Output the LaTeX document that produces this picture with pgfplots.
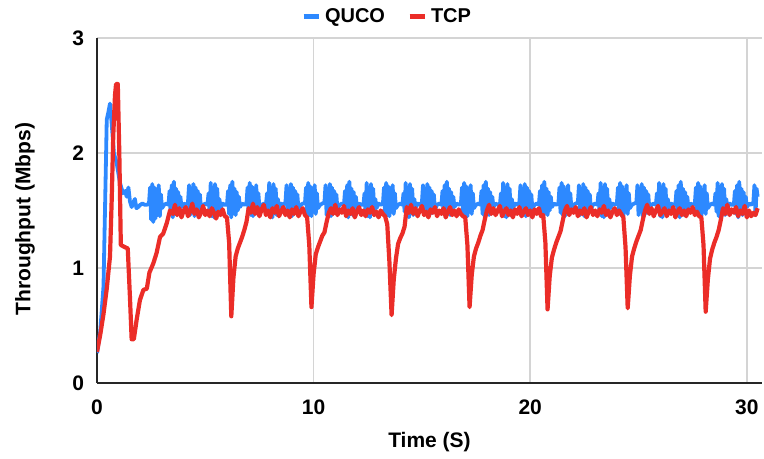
\documentclass[border=0pt]{standalone}
\usepackage{fontspec}
\setmainfont{Liberation Sans}
\usepackage{pgfplots}
\pgfplotsset{compat=1.18}
\definecolor{qblue}{RGB}{45,137,255}
\definecolor{tred}{RGB}{235,45,40}
\begin{document}
\begin{tikzpicture}
\begin{axis}[
 scale only axis, width=332.5pt, height=172.5pt,
 xmin=0, xmax=30.7, ymin=0, ymax=3,
 xtick={0,10,20,30}, ytick={0,1,2,3},
 axis x line=bottom, axis y line=left,
 axis line style={-, draw=black!85, line width=0.8pt},
 major tick length=0pt,
 grid=major, major grid style={draw=black!17, line width=0.75pt},
 /pgf/number format/assume math mode=true,
 tick label style={font=\bfseries\fontsize{10.5}{12}\selectfont},
 yticklabel style={anchor=east, xshift=-3pt},
 xticklabel style={anchor=north, yshift=-5pt},
 xlabel={Time (S)}, ylabel={Throughput (Mbps)},
 label style={font=\bfseries\fontsize{10.5}{12}\selectfont},
 xlabel style={at={(axis description cs:0.5,-0.171)}, anchor=center},
 ylabel style={at={(axis description cs:-0.1083,0.475)}, anchor=center},
 legend columns=2,
 legend style={at={(axis description cs:0.4376,1.0609)}, anchor=center, draw=none, fill=none,
   font=\bfseries\fontsize{10}{12}\selectfont,
   /tikz/every even column/.append style={column sep=9pt}},
 legend image code/.code={\draw[#1, line width=2.5pt, line cap=butt] (0pt,0pt) -- (7.5pt,0pt);},
]
\addplot[color=qblue, line width=1.9pt, line join=round] coordinates {
(0,0.26)(0.15,0.45)(0.3,0.84)(0.4,1.8)(0.45,2.29)(0.52,2.35)(0.6,2.43)(0.68,2.25)(0.78,2.0)(0.91,1.91)(1.06,1.74)(1.2,1.65)(1.3,1.67)(1.37,1.62)(1.45,1.70)(1.52,1.58)(1.6,1.53)(1.7,1.58)(1.75,1.60)(1.82,1.52)(1.9,1.53)(2.0,1.55)(2.1,1.56)(2.2,1.55)(2.3,1.55)
(2.40,1.56)(2.45,1.70)(2.50,1.42)(2.55,1.73)(2.60,1.40)(2.65,1.70)(2.70,1.43)(2.75,1.68)(2.80,1.46)(2.85,1.72)(2.90,1.45)(2.95,1.64)(3.00,1.52)(3.10,1.55)(3.20,1.56)
(3.30,1.55)(3.35,1.67)(3.40,1.47)(3.45,1.72)(3.50,1.44)(3.55,1.75)(3.60,1.48)(3.65,1.69)(3.70,1.46)(3.75,1.66)(3.80,1.50)(3.85,1.62)(3.90,1.53)(4.00,1.56)(4.10,1.55)
(4.20,1.57)(4.25,1.72)(4.30,1.46)(4.35,1.69)(4.40,1.49)(4.45,1.73)(4.50,1.45)(4.55,1.70)(4.60,1.47)(4.65,1.67)(4.70,1.48)(4.75,1.64)(4.80,1.51)(4.90,1.55)(5.00,1.56)
(5.10,1.55)(5.15,1.65)(5.20,1.49)(5.25,1.74)(5.30,1.45)(5.35,1.70)(5.40,1.44)(5.45,1.73)(5.50,1.48)(5.55,1.69)(5.60,1.46)(5.65,1.60)(5.70,1.52)(5.80,1.56)(5.90,1.55)
(6.00,1.55)(6.05,1.67)(6.10,1.47)(6.15,1.72)(6.20,1.44)(6.25,1.75)(6.30,1.48)(6.35,1.69)(6.40,1.46)(6.45,1.66)(6.50,1.50)(6.55,1.62)(6.60,1.53)(6.70,1.56)(6.80,1.55)
(6.90,1.56)(6.95,1.70)(7.00,1.48)(7.05,1.74)(7.10,1.46)(7.15,1.71)(7.20,1.45)(7.25,1.68)(7.30,1.49)(7.35,1.72)(7.40,1.47)(7.45,1.65)(7.50,1.52)(7.60,1.55)(7.70,1.56)
(7.80,1.55)(7.85,1.65)(7.90,1.49)(7.95,1.74)(8.00,1.45)(8.05,1.70)(8.10,1.44)(8.15,1.73)(8.20,1.48)(8.25,1.69)(8.30,1.46)(8.35,1.60)(8.40,1.52)(8.50,1.56)(8.60,1.55)
(8.70,1.57)(8.75,1.72)(8.80,1.46)(8.85,1.69)(8.90,1.49)(8.95,1.73)(9.00,1.45)(9.05,1.70)(9.10,1.47)(9.15,1.67)(9.20,1.48)(9.25,1.64)(9.30,1.51)(9.40,1.55)(9.50,1.56)
(9.60,1.56)(9.65,1.70)(9.70,1.48)(9.75,1.74)(9.80,1.46)(9.85,1.71)(9.90,1.45)(9.95,1.68)(10.00,1.49)(10.05,1.72)(10.10,1.47)(10.15,1.65)(10.20,1.52)(10.30,1.55)(10.40,1.56)
(10.50,1.57)(10.55,1.72)(10.60,1.46)(10.65,1.69)(10.70,1.49)(10.75,1.73)(10.80,1.45)(10.85,1.70)(10.90,1.47)(10.95,1.67)(11.00,1.48)(11.05,1.64)(11.10,1.51)(11.20,1.55)(11.30,1.56)
(11.40,1.55)(11.45,1.67)(11.50,1.47)(11.55,1.72)(11.60,1.44)(11.65,1.75)(11.70,1.48)(11.75,1.69)(11.80,1.46)(11.85,1.66)(11.90,1.50)(11.95,1.62)(12.00,1.53)(12.10,1.56)(12.20,1.55)
(12.30,1.55)(12.35,1.65)(12.40,1.49)(12.45,1.74)(12.50,1.45)(12.55,1.70)(12.60,1.44)(12.65,1.73)(12.70,1.48)(12.75,1.69)(12.80,1.46)(12.85,1.60)(12.90,1.52)(13.00,1.56)(13.10,1.55)
(13.20,1.56)(13.25,1.70)(13.30,1.48)(13.35,1.74)(13.40,1.46)(13.45,1.71)(13.50,1.45)(13.55,1.68)(13.60,1.49)(13.65,1.72)(13.70,1.47)(13.75,1.65)(13.80,1.52)(13.90,1.55)(14.00,1.56)
(14.10,1.55)(14.15,1.65)(14.20,1.49)(14.25,1.74)(14.30,1.45)(14.35,1.70)(14.40,1.44)(14.45,1.73)(14.50,1.48)(14.55,1.69)(14.60,1.46)(14.65,1.60)(14.70,1.52)(14.80,1.56)(14.90,1.55)
(15.00,1.57)(15.05,1.72)(15.10,1.46)(15.15,1.69)(15.20,1.49)(15.25,1.73)(15.30,1.45)(15.35,1.70)(15.40,1.47)(15.45,1.67)(15.50,1.48)(15.55,1.64)(15.60,1.51)(15.70,1.55)(15.80,1.56)
(15.90,1.55)(15.95,1.67)(16.00,1.47)(16.05,1.72)(16.10,1.44)(16.15,1.75)(16.20,1.48)(16.25,1.69)(16.30,1.46)(16.35,1.66)(16.40,1.50)(16.45,1.62)(16.50,1.53)(16.60,1.56)(16.70,1.55)
(16.80,1.56)(16.85,1.70)(16.90,1.48)(16.95,1.74)(17.00,1.46)(17.05,1.71)(17.10,1.45)(17.15,1.68)(17.20,1.49)(17.25,1.72)(17.30,1.47)(17.35,1.65)(17.40,1.52)(17.50,1.55)(17.60,1.56)
(17.70,1.55)(17.75,1.67)(17.80,1.47)(17.85,1.72)(17.90,1.44)(17.95,1.75)(18.00,1.48)(18.05,1.69)(18.10,1.46)(18.15,1.66)(18.20,1.50)(18.25,1.62)(18.30,1.53)(18.40,1.56)(18.50,1.55)
(18.60,1.55)(18.65,1.65)(18.70,1.49)(18.75,1.74)(18.80,1.45)(18.85,1.70)(18.90,1.44)(18.95,1.73)(19.00,1.48)(19.05,1.69)(19.10,1.46)(19.15,1.60)(19.20,1.52)(19.30,1.56)(19.40,1.55)
(19.50,1.57)(19.55,1.72)(19.60,1.46)(19.65,1.69)(19.70,1.49)(19.75,1.73)(19.80,1.45)(19.85,1.70)(19.90,1.47)(19.95,1.67)(20.00,1.48)(20.05,1.64)(20.10,1.51)(20.20,1.55)(20.30,1.56)
(20.40,1.55)(20.45,1.67)(20.50,1.47)(20.55,1.72)(20.60,1.44)(20.65,1.75)(20.70,1.48)(20.75,1.69)(20.80,1.46)(20.85,1.66)(20.90,1.50)(20.95,1.62)(21.00,1.53)(21.10,1.56)(21.20,1.55)
(21.30,1.56)(21.35,1.70)(21.40,1.48)(21.45,1.74)(21.50,1.46)(21.55,1.71)(21.60,1.45)(21.65,1.68)(21.70,1.49)(21.75,1.72)(21.80,1.47)(21.85,1.65)(21.90,1.52)(22.00,1.55)(22.10,1.56)
(22.20,1.57)(22.25,1.72)(22.30,1.46)(22.35,1.69)(22.40,1.49)(22.45,1.73)(22.50,1.45)(22.55,1.70)(22.60,1.47)(22.65,1.67)(22.70,1.48)(22.75,1.64)(22.80,1.51)(22.90,1.55)(23.00,1.56)
(23.10,1.55)(23.15,1.65)(23.20,1.49)(23.25,1.74)(23.30,1.45)(23.35,1.70)(23.40,1.44)(23.45,1.73)(23.50,1.48)(23.55,1.69)(23.60,1.46)(23.65,1.60)(23.70,1.52)(23.80,1.56)(23.90,1.55)
(24.00,1.56)(24.05,1.70)(24.10,1.48)(24.15,1.74)(24.20,1.46)(24.25,1.71)(24.30,1.45)(24.35,1.68)(24.40,1.49)(24.45,1.72)(24.50,1.47)(24.55,1.65)(24.60,1.52)(24.70,1.55)(24.80,1.56)
(24.90,1.57)(24.95,1.72)(25.00,1.46)(25.05,1.69)(25.10,1.49)(25.15,1.73)(25.20,1.45)(25.25,1.70)(25.30,1.47)(25.35,1.67)(25.40,1.48)(25.45,1.64)(25.50,1.51)(25.60,1.55)(25.70,1.56)
(25.80,1.55)(25.85,1.65)(25.90,1.49)(25.95,1.74)(26.00,1.45)(26.05,1.70)(26.10,1.44)(26.15,1.73)(26.20,1.48)(26.25,1.69)(26.30,1.46)(26.35,1.60)(26.40,1.52)(26.50,1.56)(26.60,1.55)
(26.70,1.55)(26.75,1.67)(26.80,1.47)(26.85,1.72)(26.90,1.44)(26.95,1.75)(27.00,1.48)(27.05,1.69)(27.10,1.46)(27.15,1.66)(27.20,1.50)(27.25,1.62)(27.30,1.53)(27.40,1.56)(27.50,1.55)
(27.60,1.56)(27.65,1.70)(27.70,1.48)(27.75,1.74)(27.80,1.46)(27.85,1.71)(27.90,1.45)(27.95,1.68)(28.00,1.49)(28.05,1.72)(28.10,1.47)(28.15,1.65)(28.20,1.52)(28.30,1.55)(28.40,1.56)
(28.50,1.55)(28.55,1.65)(28.60,1.49)(28.65,1.74)(28.70,1.45)(28.75,1.70)(28.80,1.44)(28.85,1.73)(28.90,1.48)(28.95,1.69)(29.00,1.46)(29.05,1.60)(29.10,1.52)(29.20,1.56)(29.30,1.55)
(29.40,1.55)(29.45,1.67)(29.50,1.47)(29.55,1.72)(29.60,1.44)(29.65,1.75)(29.70,1.48)(29.75,1.69)(29.80,1.46)(29.85,1.66)(29.90,1.50)(29.95,1.62)(30.00,1.53)(30.10,1.56)(30.20,1.55)
(30.30,1.57)(30.35,1.72)(30.40,1.46)(30.45,1.69)(30.50,1.62)
};
\addlegendentry{QUCO}
\addplot[color=tred, line width=2.1pt, line join=round] coordinates {
(0,0.27)(0.15,0.42)(0.3,0.6)(0.45,0.82)(0.6,1.1)(0.68,1.6)(0.75,2.15)(0.83,2.5)(0.88,2.6)(0.96,2.6)(1.03,2.0)(1.1,1.2)(1.2,1.19)(1.3,1.18)(1.42,1.17)(1.52,0.75)(1.6,0.38)(1.7,0.38)(1.83,0.55)(1.98,0.72)(2.14,0.81)(2.3,0.82)(2.42,0.96)(2.6,1.04)(2.75,1.13)(2.91,1.27)(3.06,1.30)(3.22,1.39)(3.37,1.50)
(3.5,1.47)(3.6,1.55)(3.7,1.46)(3.8,1.52)(3.9,1.44)(4.0,1.50)(4.1,1.53)(4.2,1.45)(4.3,1.49)(4.4,1.56)(4.5,1.47)(4.6,1.51)(4.7,1.44)(4.8,1.48)(4.9,1.54)(5.0,1.46)(5.1,1.50)(5.2,1.45)(5.3,1.52)(5.4,1.48)(5.5,1.43)(5.6,1.49)(5.7,1.46)(5.8,1.51)(5.9,1.45)(6.0,1.44)
(6.1,1.22)(6.2,0.58)(6.3,0.92)(6.4,1.10)(6.5,1.17)(6.6,1.22)(6.7,1.27)(6.8,1.33)(6.9,1.40)(7.0,1.52)
(7.1,1.48)(7.2,1.56)(7.3,1.47)(7.4,1.53)(7.5,1.45)(7.6,1.51)(7.7,1.55)(7.8,1.46)(7.9,1.50)(8.0,1.44)(8.1,1.52)(8.2,1.48)(8.3,1.54)(8.4,1.45)(8.5,1.49)(8.6,1.53)(8.7,1.46)(8.8,1.50)(8.9,1.44)(9.0,1.51)(9.1,1.47)(9.2,1.53)(9.3,1.45)(9.4,1.49)(9.5,1.52)(9.6,1.46)(9.7,1.44)
(9.8,1.20)(9.9,0.66)(10.0,0.95)(10.1,1.12)(10.2,1.18)(10.3,1.23)(10.4,1.28)(10.5,1.31)(10.6,1.40)(10.7,1.48)(10.8,1.52)
(10.9,1.47)(11.0,1.55)(11.1,1.46)(11.2,1.51)(11.3,1.48)(11.4,1.54)(11.5,1.45)(11.6,1.50)(11.7,1.47)(11.8,1.52)(11.9,1.44)(12.0,1.49)(12.1,1.53)(12.2,1.46)(12.3,1.50)(12.4,1.45)(12.5,1.51)(12.6,1.48)(12.7,1.53)(12.8,1.46)(12.9,1.49)(13.0,1.44)(13.1,1.50)(13.2,1.47)(13.3,1.45)
(13.4,1.38)(13.5,1.05)(13.6,0.59)(13.7,0.90)(13.8,1.08)(13.9,1.21)(14.0,1.26)(14.1,1.30)(14.2,1.36)(14.3,1.53)
(14.4,1.48)(14.5,1.55)(14.6,1.47)(14.7,1.52)(14.8,1.45)(14.9,1.50)(15.0,1.54)(15.1,1.46)(15.2,1.49)(15.3,1.44)(15.4,1.51)(15.5,1.48)(15.6,1.53)(15.7,1.45)(15.8,1.50)(15.9,1.47)(16.0,1.52)(16.1,1.44)(16.2,1.49)(16.3,1.53)(16.4,1.46)(16.5,1.50)(16.6,1.45)(16.7,1.51)(16.8,1.47)(16.9,1.45)(17.0,1.44)
(17.1,1.20)(17.2,0.66)(17.3,0.94)(17.4,1.10)(17.5,1.17)(17.6,1.22)(17.7,1.28)(17.8,1.33)(17.9,1.42)(18.0,1.50)
(18.1,1.55)(18.2,1.47)(18.3,1.52)(18.4,1.46)(18.5,1.50)(18.6,1.54)(18.7,1.45)(18.8,1.49)(18.9,1.52)(19.0,1.46)(19.1,1.50)(19.2,1.44)(19.3,1.51)(19.4,1.47)(19.5,1.53)(19.6,1.45)(19.7,1.49)(19.8,1.52)(19.9,1.46)(20.0,1.50)(20.1,1.44)(20.2,1.51)(20.3,1.47)(20.4,1.52)(20.5,1.45)(20.6,1.46)
(20.7,1.22)(20.8,0.64)(20.9,0.93)(21.0,1.09)(21.1,1.16)(21.2,1.22)(21.3,1.27)(21.4,1.32)(21.5,1.41)(21.6,1.50)
(21.7,1.54)(21.8,1.46)(21.9,1.51)(22.0,1.48)(22.1,1.53)(22.2,1.45)(22.3,1.50)(22.4,1.47)(22.5,1.52)(22.6,1.44)(22.7,1.49)(22.8,1.53)(22.9,1.46)(23.0,1.50)(23.1,1.45)(23.2,1.51)(23.3,1.48)(23.4,1.54)(23.5,1.46)(23.6,1.50)(23.7,1.44)(23.8,1.49)(23.9,1.52)(24.0,1.46)(24.1,1.50)(24.2,1.47)(24.3,1.44)
(24.4,1.18)(24.5,0.65)(24.6,0.93)(24.7,1.10)(24.8,1.17)(24.9,1.23)(25.0,1.28)(25.1,1.33)(25.2,1.42)(25.3,1.50)
(25.4,1.55)(25.5,1.47)(25.6,1.52)(25.7,1.45)(25.8,1.50)(25.9,1.54)(26.0,1.46)(26.1,1.49)(26.2,1.52)(26.3,1.45)(26.4,1.50)(26.5,1.47)(26.6,1.53)(26.7,1.44)(26.8,1.49)(26.9,1.52)(27.0,1.46)(27.1,1.50)(27.2,1.45)(27.3,1.51)(27.4,1.48)(27.5,1.53)(27.6,1.46)(27.7,1.49)(27.8,1.45)(27.9,1.44)
(28.0,1.20)(28.1,0.62)(28.2,0.90)(28.3,1.08)(28.4,1.16)(28.5,1.22)(28.6,1.27)(28.7,1.33)(28.8,1.42)(28.9,1.52)
(29.0,1.47)(29.1,1.55)(29.2,1.46)(29.3,1.51)(29.4,1.48)(29.5,1.53)(29.6,1.45)(29.7,1.50)(29.8,1.47)(29.9,1.54)(30.0,1.44)(30.1,1.50)(30.2,1.45)(30.3,1.48)(30.4,1.46)(30.5,1.52)
};
\addlegendentry{TCP}
\end{axis}
\pgfresetboundingbox
\path[use as bounding box] (-48.5pt,-38pt) rectangle (333.5pt,191.5pt);
\end{tikzpicture}
\end{document}
